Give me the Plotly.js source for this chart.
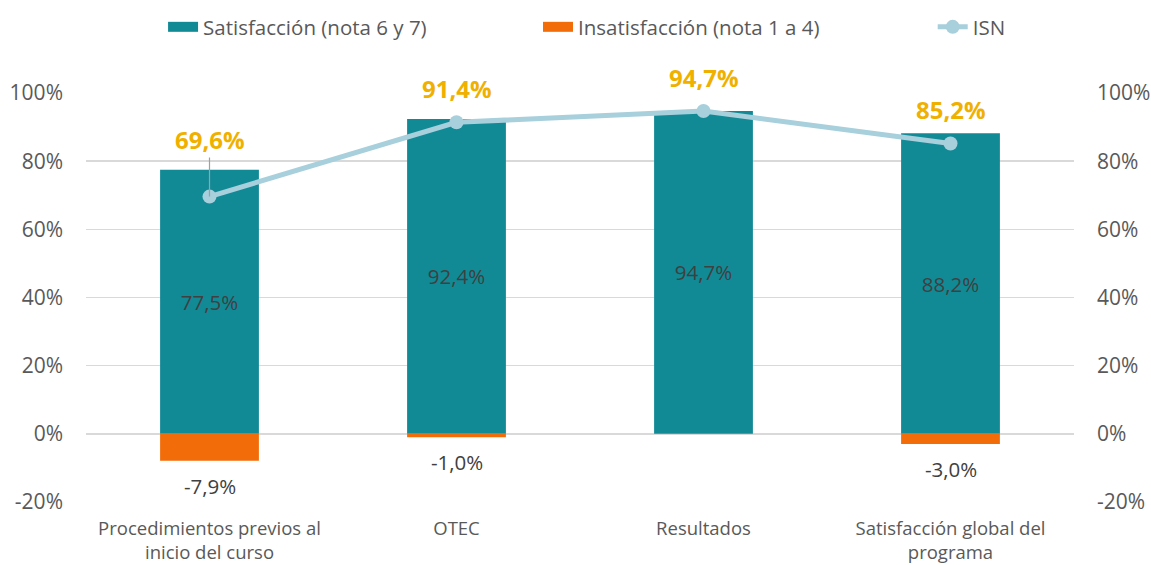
<!DOCTYPE html>
<html><head><meta charset="utf-8">
<script src="https://cdn.plot.ly/plotly-3.0.1.min.js"></script>
<style>body{margin:0;background:#fff}#c{width:1151px;height:565px}</style>
</head><body><div id="c"></div>
<script>
const categories = ["Procedimientos previos al<br>inicio del curso", "OTEC", "Resultados", "Satisfacción global del<br>programa"];
const satisfaccion = [77.5, 92.4, 94.7, 88.2];
const insatisfaccion = [-7.9, -1.0, 0, -3.0];
const isn = [69.6, 91.4, 94.7, 85.2];
const tickVals = [-20, 0, 20, 40, 60, 80, 100];
const tickText = ["-20%", "0%", "20%", "40%", "60%", "80%", "100%"];
const seriesNames = ["Satisfacción (nota 6 y 7)", "Insatisfacción (nota 1 a 4)", "ISN"];

const fmt = v => v.toFixed(1).replace('.', ',') + '%';
const FONT = '"Open Sans", Lato, sans-serif';
const TEAL = '#118A96', ORANGE = '#F26D0A', LIGHT = '#A7CFDC';

const traces = [
  {type:'bar', name:seriesNames[0], x:categories, y:satisfaccion, showlegend:false,
   marker:{color:TEAL}, width:0.4,
   text:satisfaccion.map(fmt), textposition:'inside', insidetextanchor:'middle',
   textfont:{color:'#404040', size:20.5, family:FONT}, hoverinfo:'none'},
  {type:'bar', name:seriesNames[1], x:categories, y:insatisfaccion, showlegend:false,
   marker:{color:ORANGE}, width:0.4, hoverinfo:'none'},
  {type:'scatter', mode:'lines', name:seriesNames[0], x:[null], y:[null], legend:'legend',
   line:{color:TEAL, width:15}, hoverinfo:'none'},
  {type:'scatter', mode:'lines', name:seriesNames[1], x:[null], y:[null], legend:'legend2',
   line:{color:ORANGE, width:15}, hoverinfo:'none'},
  {type:'scatter', mode:'lines+markers', name:seriesNames[2], x:categories, y:isn, legend:'legend3',
   line:{color:LIGHT, width:5}, marker:{color:LIGHT, size:14}, hoverinfo:'none'},
  {type:'scatter', x:categories, y:isn, yaxis:'y2', mode:'none', showlegend:false, hoverinfo:'none'}
];

const annotations = isn.map((v, i) => ({
  x: categories[i], y: v, xref:'x', yref:'y', text: fmt(v),
  showarrow: i === 0, arrowhead:0, arrowwidth:1.2, arrowcolor:'#A0A0A0',
  ax: 0, ay: i === 0 ? -57 : 0, yshift: i === 0 ? 0 : 34,
  font:{color:'#F0B000', size:24, family:FONT, weight:'bold'}
}));
insatisfaccion.forEach((v, i) => {
  if (v !== 0) annotations.push({
    x: categories[i], y: v, xref:'x', yref:'y', text: fmt(v), showarrow:false,
    yanchor:'middle', yshift:-25, font:{color:'#404040', size:20.5, family:FONT}
  });
});

const legBase = {orientation:'h', yref:'container', y:1 - 27/565, yanchor:'middle', xanchor:'left',
  font:{size:20.5, color:'#595959', family:FONT}, itemwidth:30, bgcolor:'rgba(0,0,0,0)'};

const layout = {
  width:1151, height:565,
  margin:{l:86, r:77, t:93, b:63},
  paper_bgcolor:'#fff', plot_bgcolor:'#fff',
  barmode:'relative',
  font:{family:FONT, color:'#595959'},
  showlegend:true,
  legend: Object.assign({}, legBase, {x:0.078}),
  legend2: Object.assign({}, legBase, {x:0.4575}),
  legend3: Object.assign({}, legBase, {x:0.857}),
  xaxis:{showgrid:false, zeroline:false, showline:false, ticks:'',
         tickfont:{size:18.5, color:'#595959', family:FONT}, ticklabelstandoff:13},
  yaxis:{range:[-20, 100], tickvals:tickVals, ticktext:tickText, showgrid:true,
         gridcolor:'#D9D9D9', gridwidth:1.5, zeroline:false, showline:false,
         tickfont:{size:21, color:'#595959', family:FONT}, ticklabelstandoff:22},
  yaxis2:{range:[-20, 100], tickvals:tickVals, ticktext:tickText, overlaying:'y', side:'right',
          showgrid:false, zeroline:false, showline:false,
          tickfont:{size:21, color:'#595959', family:FONT}, ticklabelstandoff:22},
  annotations: annotations
};

Plotly.newPlot('c', traces, layout, {displayModeBar:false, staticPlot:true});
</script></body></html>
